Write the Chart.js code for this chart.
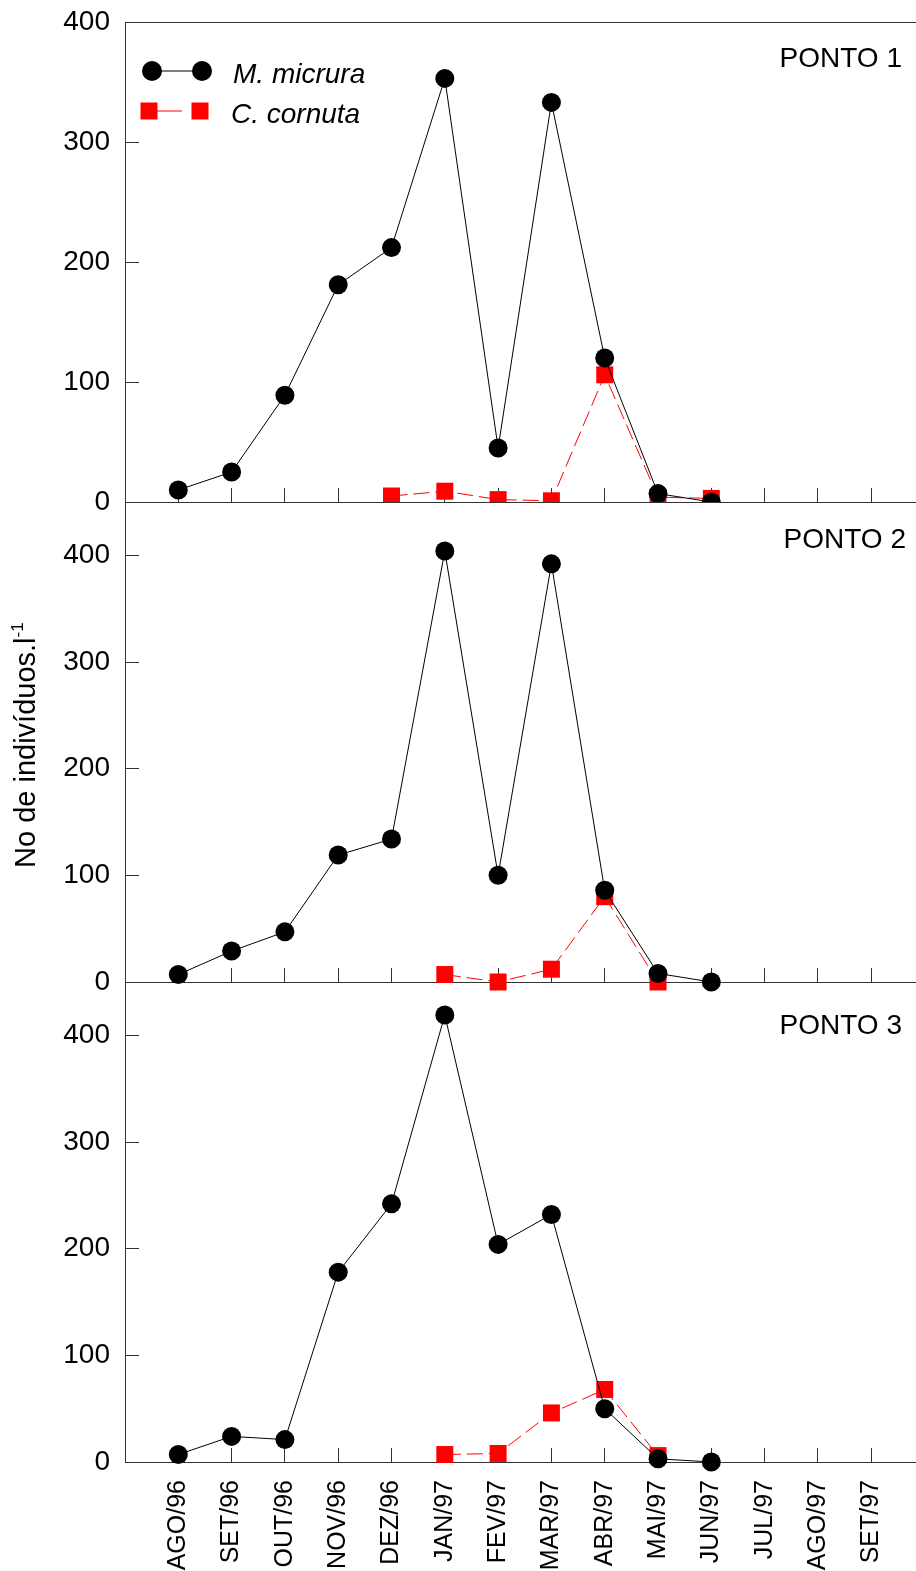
<!DOCTYPE html>
<html>
<head>
<meta charset="utf-8">
<script src="https://cdn.jsdelivr.net/npm/chart.js@4.4.1/dist/chart.umd.min.js"></script>
<style>
body { margin: 0; background: #fff; overflow: hidden; font-family: "Liberation Sans", Arial, sans-serif; }
#wrap { position: relative; width: 916px; height: 1571px; }
canvas { position: absolute; left: 0; }
#ytitle { position: absolute; left: 10px; top: 868px; transform-origin: 0 0; transform: rotate(-90deg);
  white-space: nowrap; font-size: 29px; line-height: 30px; color: #000; }
#ytitle sup { font-size: 17px; vertical-align: 12px; line-height: 0; }
</style>
</head>
<body>
<div id="wrap">
  <canvas id="p1" width="916" height="520" style="top:0"></canvas>
  <canvas id="p2" width="916" height="540" style="top:502px"></canvas>
  <canvas id="p3" width="916" height="589" style="top:982px"></canvas>
  <div id="ytitle">No de indivíduos.l<sup>-1</sup></div>
</div>
<script>
var months = ['AGO/96', 'SET/96', 'OUT/96', 'NOV/96', 'DEZ/96', 'JAN/97', 'FEV/97',
              'MAR/97', 'ABR/97', 'MAI/97', 'JUN/97', 'JUL/97', 'AGO/97', 'SET/97'];
var yTicks = [0, 100, 200, 300, 400];

// PONTO 1
var micrura1 = [10, 25, 89, 181, 212, 353, 45, 333, 120, 7, 0, null, null, null];
var cornuta1 = [null, null, null, null, 5, 9, 2, 1, 106, 4, 3, null, null, null];
// PONTO 2
var micrura2 = [7, 29, 47, 119, 134, 404, 100, 392, 86, 8, 0, null, null, null];
var cornuta2 = [null, null, null, null, null, 7, 0, 12, 80, 0, null, null, null, null];
// PONTO 3
var micrura3 = [7, 24, 21, 178, 242, 419, 204, 232, 50, 3, 0, null, null, null];
var cornuta3 = [null, null, null, null, null, 7, 8, 46, 68, 6, null, null, null, null];

Chart.defaults.font.family = '"Liberation Sans", Arial, sans-serif';
Chart.defaults.color = '#000';

function pts(arr) {
    return arr.map(function (v, i) { return { x: i, y: v }; });
}

var panelText = {
    id: 'panelText',
    afterDraw: function (chart, args, o) {
        var ctx = chart.ctx;
        ctx.save();
        ctx.font = '28px "Liberation Sans"';
        ctx.fillStyle = '#000';
        ctx.textAlign = 'right';
        ctx.fillText(o.text, o.x, o.y);
        if (o.legend) {
            // M. micrura
            ctx.strokeStyle = '#000';
            ctx.lineWidth = 1;
            ctx.beginPath(); ctx.moveTo(152, 71); ctx.lineTo(202, 71); ctx.stroke();
            ctx.fillStyle = '#000';
            [152, 202].forEach(function (x) {
                ctx.beginPath(); ctx.arc(x, 71, 10, 0, Math.PI * 2); ctx.fill();
            });
            // C. cornuta
            ctx.strokeStyle = '#ff0000';
            ctx.beginPath(); ctx.moveTo(157, 111); ctx.lineTo(182, 111); ctx.stroke();
            ctx.fillStyle = '#ff0000';
            [149, 200].forEach(function (x) { ctx.fillRect(x - 8.5, 111 - 8.5, 17, 17); });
            ctx.fillStyle = '#000';
            ctx.textAlign = 'left';
            ctx.font = 'italic 28px "Liberation Sans"';
            ctx.fillText('M. micrura', 233, 83);
            ctx.fillText('C. cornuta', 231, 123);
        }
        ctx.restore();
    }
};

function makePanel(id, micrura, cornuta, ymax, opt) {
    var clip = opt.clipBottom ? { left: false, top: false, right: false, bottom: 0 } : false;
    var scales = {
        x: {
            type: 'linear', min: -1, max: 13.84,
            afterBuildTicks: function (s) { s.ticks = months.map(function (m, i) { return { value: i }; }); },
            afterFit: function (s) { s.height = opt.bottom ? 109 : 0; s.paddingLeft = 0; s.paddingRight = 0; },
            ticks: {
                display: !!opt.bottom, autoSkip: false, minRotation: 90, maxRotation: 90,
                padding: 32, font: { size: 25 },
                callback: function (v) { return months[v]; }
            },
            grid: { drawOnChartArea: false, tickLength: -14, color: '#333' },
            border: { color: '#333', width: 1 }
        },
        y: {
            min: 0, max: ymax,
            afterBuildTicks: function (s) { s.ticks = yTicks.map(function (v) { return { value: v }; }); },
            afterFit: function (s) { s.width = 125; s.paddingTop = 0; s.paddingBottom = 0; },
            ticks: { padding: 29, font: { size: 28 } },
            grid: { drawOnChartArea: false, tickLength: -14, color: '#333' },
            border: { color: '#333', width: 1 }
        }
    };
    if (opt.topLine) {
        scales.xt = {
            type: 'linear', position: 'top', min: -1, max: 13.84,
            afterFit: function (s) { s.height = 0; s.paddingLeft = 0; s.paddingRight = 0; },
            ticks: { display: false },
            grid: { display: false },
            border: { color: '#333', width: 1 }
        };
    }
    return new Chart(document.getElementById(id), {
        type: 'line',
        data: {
            datasets: [{
                label: 'M. micrura',
                data: pts(micrura),
                borderColor: '#000',
                backgroundColor: '#000',
                borderWidth: 1,
                pointStyle: 'circle',
                pointRadius: 9.5,
                pointBorderWidth: 0,
                clip: clip
            }, {
                label: 'C. cornuta',
                data: pts(cornuta),
                borderColor: '#ff0000',
                backgroundColor: '#ff0000',
                borderWidth: 1,
                borderDash: [16, 6],
                pointStyle: 'rect',
                pointRadius: 12,
                pointBorderWidth: 0,
                clip: clip
            }]
        },
        options: {
            responsive: false,
            animation: false,
            layout: { padding: opt.padding, autoPadding: false },
            elements: { line: { tension: 0 } },
            scales: scales,
            plugins: {
                legend: { display: false },
                tooltip: { enabled: false },
                panelText: { text: opt.label, x: opt.lx, y: opt.ly, legend: !!opt.legend }
            }
        },
        plugins: [panelText]
    });
}

makePanel('p1', micrura1, cornuta1, 400, {
    topLine: true, legend: true, clipBottom: true, label: 'PONTO 1', lx: 902, ly: 67,
    padding: { top: 22, bottom: 18, left: 0, right: 0 }
});
makePanel('p2', micrura2, cornuta2, 450, {
    label: 'PONTO 2', lx: 906, ly: 46,
    padding: { top: 0, bottom: 60, left: 0, right: 0 }
});
makePanel('p3', micrura3, cornuta3, 450, {
    bottom: true, label: 'PONTO 3', lx: 902, ly: 52,
    padding: { top: 0, bottom: 0, left: 0, right: 0 }
});
</script>
</body>
</html>
